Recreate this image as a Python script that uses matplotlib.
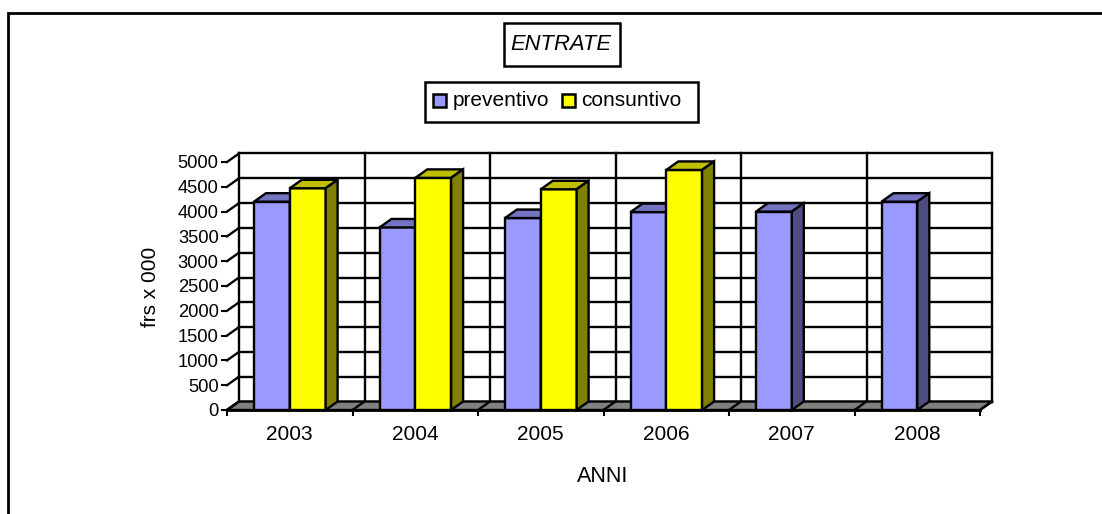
import matplotlib
matplotlib.use("Agg")
import matplotlib.pyplot as plt
from matplotlib.patches import Polygon, Rectangle

years = ['2003', '2004', '2005', '2006', '2007', '2008']
preventivo = [4200, 3680, 3870, 3990, 4000, 4200]
consuntivo = [4470, 4680, 4450, 4840, None, None]
y_ticks = [0, 500, 1000, 1500, 2000, 2500, 3000, 3500, 4000, 4500, 5000]

plt.rcParams['font.family'] = ['Liberation Sans', 'DejaVu Sans']

W, H = 1102, 514
LW = 1.7
fig = plt.figure(figsize=(W / 100, H / 100), dpi=100, facecolor='white')

# pixel overlay for frame, title box and legend
bg = fig.add_axes([0, 0, 1, 1], zorder=2)
bg.set_xlim(0, W)
bg.set_ylim(H, 0)
bg.axis('off')
bg.patch.set_alpha(0)
bg.plot([8, 8, W], [H, 12.5, 12.5], color='black', lw=2.0, solid_joinstyle='miter')

# main plot, front plane from 227..980 px and 410..162 px
ax = fig.add_axes([227 / W, 1 - 410 / H, (980 - 227) / W, (410 - 162) / H], zorder=1)
ax.set_xlim(0, 6)
ax.set_ylim(0, 5000)
ax.patch.set_alpha(0)

# depth of the fake 3d, in data units
dx = 12 / 125.5
dy = 8.5 / 248 * 5000

for v in y_ticks:
    ax.plot([dx, 6 + dx], [v + dy, v + dy], color='black', lw=LW, clip_on=False, zorder=1)
    ax.plot([0, dx], [v, v + dy], color='black', lw=LW, clip_on=False, zorder=1)
for i in range(7):
    ax.plot([i + dx, i + dx], [dy, 5000 + dy], color='black', lw=LW, clip_on=False, zorder=1)

# floor
ax.add_patch(Polygon([(0, 0), (dx, dy), (6 + dx, dy), (6, 0)], closed=True, facecolor='#808080',
                     edgecolor='black', lw=LW, clip_on=False, zorder=1.5))
for i in range(7):
    ax.plot([i, i + dx], [0, dy], color='black', lw=LW, clip_on=False, zorder=1.6)


def draw_bar(x0, w, v, front, top, side, z):
    ax.bar(x0, v, width=w, align='edge', color=front, edgecolor='black', lw=LW, clip_on=False, zorder=z)
    ax.add_patch(Polygon([(x0, v), (x0 + dx, v + dy), (x0 + w + dx, v + dy), (x0 + w, v)], closed=True,
                         facecolor=top, edgecolor='black', lw=LW, clip_on=False, zorder=z))
    ax.add_patch(Polygon([(x0 + w, 0), (x0 + w + dx, dy), (x0 + w + dx, v + dy), (x0 + w, v)], closed=True,
                         facecolor=side, edgecolor='black', lw=LW, clip_on=False, zorder=z))


bar_w = 35.8 / 125.5
gap = 27 / 125.5
for i in range(len(years)):
    draw_bar(i + gap, bar_w, preventivo[i], '#9999FF', '#7373BF', '#4D4D80', 3 + i * 0.1)
    if consuntivo[i] is not None:
        draw_bar(i + gap + bar_w, bar_w, consuntivo[i], '#FFFF00', '#BFBF00', '#808000', 3.05 + i * 0.1)

for s in ['top', 'right', 'left']:
    ax.spines[s].set_visible(False)
ax.spines['bottom'].set_linewidth(2.0)
ax.spines['bottom'].set_zorder(2)
ax.set_yticks(y_ticks)
ax.set_xticks(range(7))
ax.set_xticklabels([])
ax.set_xticks([i + 0.5 for i in range(6)], minor=True)
ax.set_xticklabels(years, minor=True)
ax.tick_params(axis='y', length=4.5, width=1.5, labelsize=13.2, pad=1.5)
ax.tick_params(axis='x', which='major', length=4.5, width=1.5)
ax.tick_params(axis='x', which='minor', length=0, labelsize=15, pad=10.5)

bg.text(150, 287, 'frs x 000', rotation=90, ha='center', va='center', fontsize=15)
bg.text(603, 476, 'ANNI', ha='center', va='center', fontsize=15.5)

# title box
bg.add_patch(Rectangle((504, 23), 116, 43, facecolor='white', edgecolor='black', lw=1.8))
bg.text(561, 44.5, 'ENTRATE', style='italic', ha='center', va='center', fontsize=15.8)

# legend
bg.add_patch(Rectangle((425, 82), 273, 40, facecolor='white', edgecolor='black', lw=1.8))
bg.add_patch(Rectangle((433, 94), 13, 13, facecolor='#9999FF', edgecolor='black', lw=1.8))
bg.text(452.5, 101, 'preventivo', ha='left', va='center', fontsize=15)
bg.add_patch(Rectangle((562, 94), 13, 13, facecolor='#FFFF00', edgecolor='black', lw=1.8))
bg.text(581, 101, 'consuntivo', ha='left', va='center', fontsize=15)

fig.savefig('out.png', dpi=100)
plt.close(fig)
